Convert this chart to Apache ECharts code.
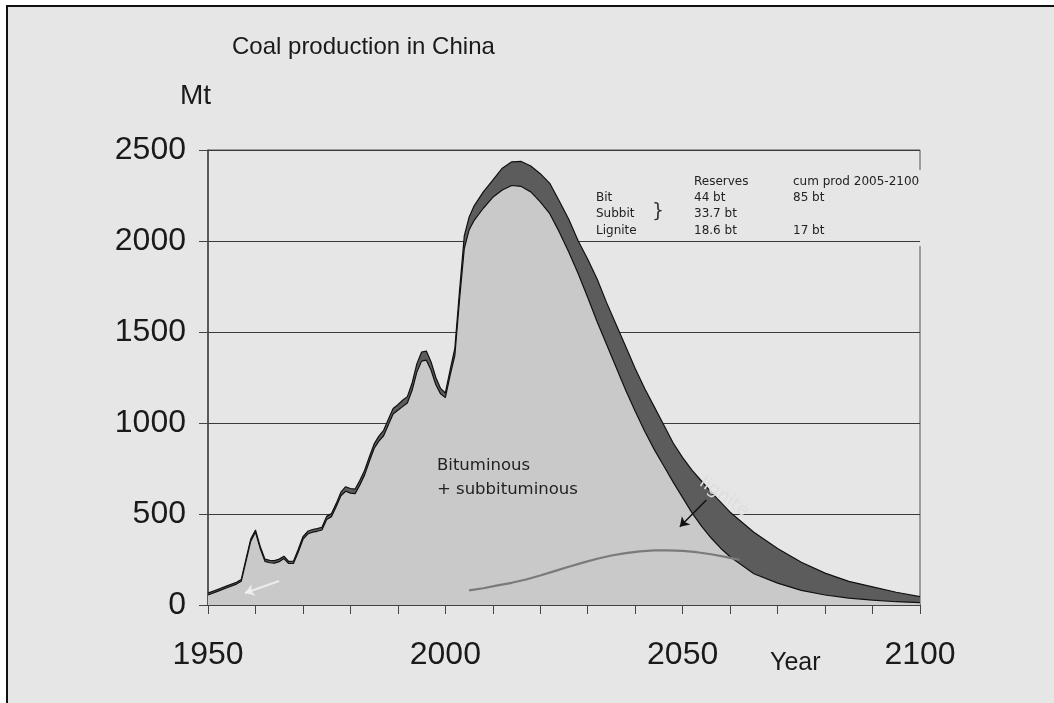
<!DOCTYPE html>
<html>
<head>
<meta charset="utf-8">
<script src="https://cdn.jsdelivr.net/npm/echarts@6/dist/echarts.min.js"></script>
<style>
  html, body { margin: 0; padding: 0; background: #fff; }
  .frame {
    position: absolute; left: 6px; top: 5px; right: 0; bottom: 0;
    background: #e6e6e6;
    border-left: 2px solid #111;
    border-top: 2px solid #111;
  }
  #chart { position: absolute; left: 0; top: 0; width: 1054px; height: 703px; }
</style>
</head>
<body>
<div class="frame"></div>
<div id="chart"></div>
<script>
  // years sampled along the curves (yearly history, coarser projection)
  var years = [1950,1952,1954,1956,1957,1958,1959,1960,1961,1962,1963,1964,1965,1966,1967,1968,1969,1970,
    1971,1972,1973,1974,1975,1976,1977,1978,1979,1980,1981,1982,1983,1984,1985,1986,1987,1988,1989,1990,
    1991,1992,1993,1994,1995,1996,1997,1998,1999,2000,2001,2002,2003,2004,2005,2006,2008,2010,2012,2014,
    2016,2018,2020,2022,2024,2026,2028,2030,2032,2034,2036,2038,2040,2042,2044,2046,2048,2050,2052,2054,
    2056,2058,2060,2065,2070,2075,2080,2085,2090,2095,2100];

  // bituminous + subbituminous (Mt)
  var bitSub = [55,75,95,115,130,240,350,400,310,240,232,230,238,255,228,228,290,360,
    390,400,405,412,470,485,540,600,625,615,612,660,715,790,860,900,930,990,1050,1070,
    1090,1110,1180,1280,1340,1345,1290,1210,1160,1140,1260,1370,1680,1960,2060,2110,2180,2240,2280,2305,
    2300,2270,2215,2150,2050,1940,1820,1690,1555,1430,1305,1180,1065,955,855,765,675,590,505,432,
    368,312,265,172,120,80,55,38,27,18,13];

  // total incl. lignite (Mt)
  var total = [65,85,105,125,140,252,362,412,322,252,245,244,252,268,240,241,305,375,
    405,415,420,427,487,502,557,620,650,640,637,685,740,815,885,928,960,1020,1080,1100,
    1125,1145,1220,1325,1390,1395,1335,1250,1190,1165,1290,1410,1730,2030,2130,2190,2270,2335,2400,2435,
    2437,2412,2370,2317,2220,2120,2000,1900,1790,1660,1540,1420,1300,1190,1090,990,890,810,740,680,
    620,565,510,400,310,235,175,130,100,70,46];

  // lignite alone
  var ligYears = [2005,2008,2011,2014,2017,2020,2023,2026,2029,2032,2035,2038,2041,2044,2047,2050,2053,2056,2059,2062];
  var lignite = [80,92,108,122,140,162,186,210,233,254,272,285,295,300,300,297,290,279,264,248];

  var yTicks = [0, 500, 1000, 1500, 2000, 2500];
  var xLabelYears = [1950, 2000, 2050, 2100];

  var sans = '"Liberation Sans", Arial, sans-serif';
  var plain = '"DejaVu Sans", Verdana, sans-serif';

  function pairs(xs, ys) {
    return xs.map(function (x, i) { return [x, ys[i]]; });
  }

  var chart = echarts.init(document.getElementById('chart'));
  chart.setOption({
    backgroundColor: 'transparent',
    animation: false,
    title: {
      text: 'Coal production in China',
      left: 227, top: 30,
      textStyle: { fontFamily: sans, fontSize: 24, fontWeight: 'normal', color: '#1a1a1a' }
    },
    grid: { left: 208, right: 134, top: 150, bottom: 98, show: true, borderColor: '#555', borderWidth: 1 },
    xAxis: {
      type: 'value', min: 1950, max: 2100, interval: 10,
      axisLine: { show: true, lineStyle: { color: '#444', width: 1.5 } },
      axisTick: { show: true, length: 9, lineStyle: { color: '#444' } },
      splitLine: { show: false },
      axisLabel: {
        margin: 34, fontFamily: sans, fontSize: 32, color: '#1a1a1a',
        formatter: function (v) { return xLabelYears.indexOf(v) >= 0 ? String(v) : ''; }
      }
    },
    yAxis: {
      type: 'value', min: yTicks[0], max: yTicks[yTicks.length - 1], interval: 500,
      axisLine: { show: true, lineStyle: { color: '#444', width: 1.5 } },
      axisTick: { show: true, length: 9, lineStyle: { color: '#444' } },
      splitLine: { show: true, lineStyle: { color: '#3a3a3a', width: 1 } },
      axisLabel: {
        margin: 22, fontFamily: sans, fontSize: 32, color: '#1a1a1a',
        formatter: function (v) { return String(v); }
      }
    },
    series: [
      {
        name: 'total', type: 'line', data: pairs(years, total),
        showSymbol: false, z: 2,
        lineStyle: { color: '#111', width: 1.2 },
        areaStyle: { color: '#5c5c5c', opacity: 1 }
      },
      {
        name: 'bitSub', type: 'line', data: pairs(years, bitSub),
        showSymbol: false, z: 3,
        lineStyle: { color: '#111', width: 1.2 },
        areaStyle: { color: '#c9c9c9', opacity: 1 }
      },
      {
        name: 'lignite', type: 'line', data: pairs(ligYears, lignite),
        showSymbol: false, z: 4,
        lineStyle: { color: '#7a7a7a', width: 2.2 },
        markLine: {
          silent: true, symbol: ['none', 'arrow'], symbolSize: 9, label: { show: false },
          lineStyle: { type: 'solid' },
          data: [
            [{ coord: [2055, 577], lineStyle: { color: '#111', width: 1.5 } }, { coord: [2049.4, 430] }],
            [{ coord: [1965, 132], lineStyle: { color: 'rgba(245,245,245,0.8)', width: 2 } }, { coord: [1957.8, 66] }]
          ]
        }
      }
    ],
    graphic: [
      { type: 'text', left: 180, top: 82, z: 100, style: { text: 'Mt', font: '28px ' + sans, fill: '#1a1a1a' } },
      { type: 'text', left: 770, top: 651, z: 100, style: { text: 'Year', font: '25px ' + sans, fill: '#1a1a1a' } },
      { type: 'text', left: 437, top: 454, z: 100, style: { text: 'Bituminous\n+ subbituminous', font: '16.5px ' + plain, lineHeight: 24, fill: '#222' } },
      {
        type: 'text', x: 724, y: 497, rotation: -0.62, z: 100,
        style: { text: 'lignite', font: '18px ' + plain, fill: '#dedede', align: 'center', verticalAlign: 'middle' }
      },
      {
        type: 'group', left: 588, top: 170, z: 100,
        children: [
          { type: 'rect', shape: { x: 0, y: 0, width: 345, height: 76 }, style: { fill: '#e6e6e6' } },
          { type: 'text', x: 106, y: 6, style: { text: 'Reserves', font: '12px ' + plain, fill: '#222' } },
          { type: 'text', x: 205, y: 6, style: { text: 'cum prod 2005-2100', font: '12px ' + plain, fill: '#222' } },
          { type: 'text', x: 8, y: 22, style: { text: 'Bit', font: '12px ' + plain, fill: '#222' } },
          { type: 'text', x: 106, y: 22, style: { text: '44 bt', font: '12px ' + plain, fill: '#222' } },
          { type: 'text', x: 205, y: 22, style: { text: '85 bt', font: '12px ' + plain, fill: '#222' } },
          { type: 'text', x: 8, y: 38, style: { text: 'Subbit', font: '12px ' + plain, fill: '#222' } },
          { type: 'text', x: 64, y: 33, style: { text: '}', font: '19px ' + plain, fill: '#333' } },
          { type: 'text', x: 106, y: 38, style: { text: '33.7 bt', font: '12px ' + plain, fill: '#222' } },
          { type: 'text', x: 8, y: 55, style: { text: 'Lignite', font: '12px ' + plain, fill: '#222' } },
          { type: 'text', x: 106, y: 55, style: { text: '18.6 bt', font: '12px ' + plain, fill: '#222' } },
          { type: 'text', x: 205, y: 55, style: { text: '17 bt', font: '12px ' + plain, fill: '#222' } }
        ]
      }
    ]
  });
</script>
</body>
</html>
